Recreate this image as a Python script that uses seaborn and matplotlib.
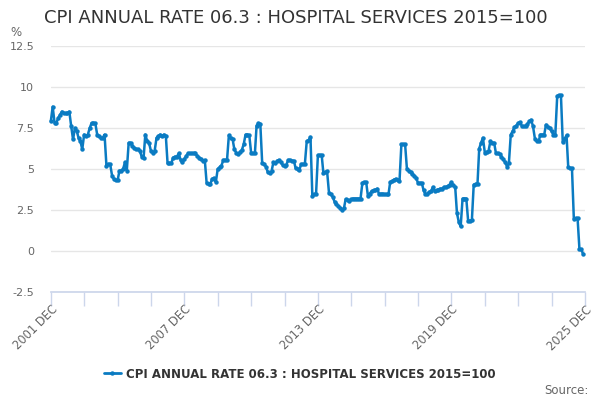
import pandas as pd
import seaborn as sns
import matplotlib.pyplot as plt
from matplotlib.lines import Line2D

# Monthly annual rate (%), Dec 2001 to Nov 2025
rates = [
    7.9,
    8.8, 7.8, 7.8, 8.1, 8.3, 8.5, 8.4, 8.4, 8.4, 8.5, 7.6, 6.8,
    7.5, 7.3, 6.9, 6.7, 6.2, 7.1, 7.0, 7.1, 7.5, 7.8, 7.8, 7.8,
    7.1, 7.0, 6.9, 6.9, 7.1, 5.2, 5.3, 5.3, 4.6, 4.4, 4.3, 4.3,
    4.9, 4.9, 5.0, 5.4, 4.9, 6.6, 6.6, 6.4, 6.3, 6.2, 6.2, 6.1,
    5.75, 5.7, 7.1, 6.7, 6.6, 6.1, 6.0, 6.1, 6.9, 7.0, 7.1, 7.0,
    7.1, 7.0, 5.35, 5.35, 5.35, 5.7, 5.75, 5.75, 5.95, 5.55, 5.4, 5.6,
    5.8, 5.95, 5.95, 5.95, 5.95, 5.95, 5.8, 5.7, 5.6, 5.5, 5.55, 4.15,
    4.1, 4.1, 4.4, 4.45, 4.2, 5.0, 5.1, 5.2, 5.55, 5.55, 5.55, 7.05,
    6.9, 6.8, 6.2, 6.0, 5.9, 6.05, 6.15, 6.5, 7.1, 7.1, 7.05, 6.0,
    5.95, 5.95, 7.65, 7.8, 7.75, 5.35, 5.3, 5.15, 4.8, 4.75, 4.85, 5.4,
    5.35, 5.5, 5.55, 5.4, 5.25, 5.2, 5.25, 5.55, 5.55, 5.5, 5.5, 5.05,
    5.0, 4.95, 5.3, 5.3, 5.3, 6.7, 6.75, 6.95, 3.35, 3.45, 3.5, 5.85,
    5.85, 5.85, 4.75, 4.8, 4.85, 3.55, 3.45, 3.3, 3.0, 2.85, 2.75, 2.6,
    2.5, 2.6, 3.15, 3.1, 3.05, 3.15, 3.2, 3.2, 3.2, 3.2, 3.2, 4.15,
    4.2, 4.2, 3.35, 3.5, 3.65, 3.7, 3.7, 3.8, 3.45, 3.5, 3.5, 3.45,
    3.45, 3.45, 4.2, 4.25, 4.35, 4.4, 4.35, 4.25, 6.5, 6.5, 6.5, 5.0,
    4.9, 4.8, 4.7, 4.6, 4.45, 4.15, 4.15, 4.15, 3.7, 3.45, 3.5, 3.6,
    3.65, 3.9, 3.65, 3.7, 3.75, 3.8, 3.8, 3.9, 3.9, 3.95, 4.05, 4.2,
    4.0, 3.9, 2.3, 1.75, 1.5, 3.2, 3.2, 3.2, 1.8, 1.85, 1.9, 4.05,
    4.1, 4.1, 6.25, 6.6, 6.9, 6.0, 6.05, 6.1, 6.7, 6.6, 6.6, 5.95,
    5.95, 5.9, 5.75, 5.6, 5.4, 5.15, 5.35, 7.1, 7.3, 7.55, 7.65, 7.8,
    7.85, 7.6, 7.6, 7.6, 7.75, 7.9, 8.0, 7.6, 6.85, 6.7, 6.7, 7.1,
    7.1, 7.1, 7.7, 7.55, 7.5, 7.3, 7.1, 7.1, 9.45, 9.5, 9.5, 6.65,
    6.85, 7.05, 5.1, 5.05, 5.05, 1.95, 2.0, 2.0, 0.1, 0.1, -0.2,
]
start_month = "2001-12-01"
end_month = "2025-12-01"
y_ticks = [-2.5, 0, 2.5, 5, 7.5, 10, 12.5]
title = "CPI ANNUAL RATE 06.3 : HOSPITAL SERVICES 2015=100"
blue = "#0a7bc2"
grey = "#666666"

df = pd.DataFrame({
    "month": pd.date_range(start_month, periods=len(rates), freq="MS"),
    "rate": rates,
})

sns.set_theme(style="white")
plt.rcParams["font.family"] = ["DejaVu Sans"]

fig = plt.figure(figsize=(6, 4), dpi=100)
ax = fig.add_axes([50.8 / 600, 1 - 292 / 400, (585 - 50.8) / 600, 246 / 400])

sns.lineplot(data=df, x="month", y="rate", ax=ax, color=blue, linewidth=1.8,
             marker="o", markersize=3.2, markeredgewidth=0, clip_on=False)

# Axis limits and ticks
ax.set_xlim(pd.Timestamp(start_month), pd.Timestamp(end_month))
ax.set_ylim(y_ticks[0], y_ticks[-1])
ax.set_yticks(y_ticks)
ax.set_yticklabels([f"{t:g}" for t in y_ticks])
ax.grid(axis="y", color="#e6e6e6", linewidth=1)
ax.set_axisbelow(True)

minor = pd.date_range(start_month, end_month, freq="18MS")
major = pd.date_range(start_month, end_month, freq="72MS")
ax.set_xticks(minor)
ax.set_xticklabels([d.strftime("%Y %b").upper() if d in major else ""
                    for d in minor])
ax.tick_params(axis="x", bottom=True, direction="out", length=10,
               color="#ccd6eb", width=1, pad=-2,
               labelsize=8.3, labelcolor=grey, labelrotation=45)
ax.tick_params(axis="y", length=0, pad=12, labelsize=8, labelcolor=grey)
for lab in ax.get_xticklabels():
    lab.set_ha("right")
    lab.set_rotation_mode("anchor")

for side in ["top", "right", "left"]:
    ax.spines[side].set_visible(False)
ax.spines["bottom"].set_color("#ccd6eb")
ax.set_xlabel("")
ax.set_ylabel("")

# Titles and labels
fig.text(44 / 600, 1 - 18 / 400, title, fontsize=13, color="#333333",
         va="center", ha="left")
fig.text(10 / 600, 1 - 32 / 400, "%", fontsize=8.5, color=grey, va="center")
fig.text(589 / 600, 1 - 390 / 400, "Source:", fontsize=8.5, color=grey,
         va="center", ha="right")

# Legend
handle = Line2D([], [], color=blue, linewidth=2, marker="o", markersize=3.2,
                markeredgewidth=0)
fig.legend([handle], [title], loc="center",
           bbox_to_anchor=(300 / 600, 1 - 374 / 400),
           frameon=False, handlelength=1.4, handletextpad=0.5,
           prop={"weight": "bold", "size": 8.5}, labelcolor="#333333")

fig.savefig("out.png", dpi=100)
